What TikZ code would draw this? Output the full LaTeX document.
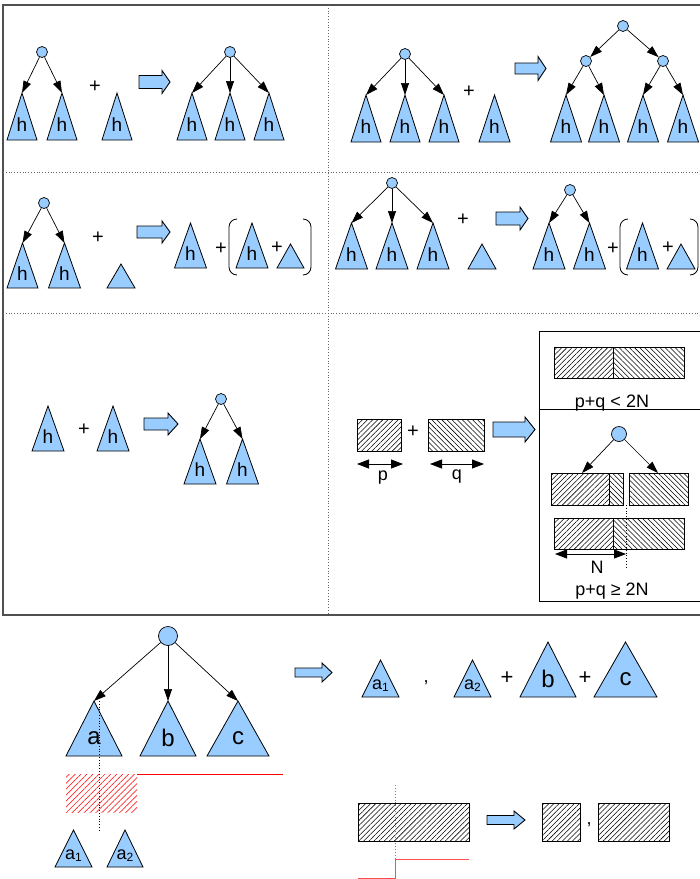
\documentclass[tikz,border=0pt]{standalone}
\usepackage{fontspec}
\setmainfont{Liberation Sans}
\usetikzlibrary{arrows.meta,patterns.meta}
\definecolor{tblue}{RGB}{153,204,255}
\definecolor{framegray}{RGB}{80,80,80}
\newcommand\fs[1]{\fontsize{#1}{#1}\selectfont}
% triangle: name, cx, apex y, half width, base y, label
\newcommand\tri[6]{%
  \draw[trishape] (#2-#4,#5) -- (#2,#3) -- (#2+#4,#5) -- cycle;
  \coordinate (#1) at (#2,#3);
  \node[lab] (#1l) at (#2,{#5-(#5-#3)*0.32}) {#6};}
% block arrow: x1, x2, y, body half, head half, head length
\newcommand\barrow[6]{%
  \draw[blockarr] (#1,#3-#4) -- (#2-#6,#3-#4) -- (#2-#6,#3-#5) -- (#2,#3)
    -- (#2-#6,#3+#5) -- (#2-#6,#3+#4) -- (#1,#3+#4) -- cycle;}
\newcommand\sub[2]{#1{\fs{12}\raisebox{-2pt}{#2}}}
\begin{document}
\begin{tikzpicture}[x=1pt,y=-1pt,
  trishape/.style={draw=black,fill=tblue,line width=0.8pt,line join=miter},
  lab/.style={inner sep=0pt,font=\fs{19}},
  knot/.style={circle,draw=black,fill=tblue,inner sep=0pt,minimum size=11pt,line width=0.7pt},
  arr/.style={-{Triangle[length=12pt,width=8pt]},line width=0.7pt},
  dblarr/.style={{Triangle[length=12pt,width=9pt]}-{Triangle[length=12pt,width=9pt]},line width=0.8pt},
  blockarr/.style={draw=black,fill=tblue,line width=0.9pt},
  plus/.style={inner sep=0pt,font=\fs{20}},
  txt/.style={inner sep=0pt,font=\fs{18}},
  frame/.style={draw=framegray,line width=1.3pt},
  sep/.style={draw=gray!80!black,dotted,line width=0.8pt},
  hne/.style={pattern={Lines[angle=45,distance=3.6pt,line width=0.55pt]}},
  hnw/.style={pattern={Lines[angle=-45,distance=3.6pt,line width=0.55pt]}},
  hred/.style={pattern={Lines[angle=45,distance=4.2pt,line width=0.7pt]},pattern color=red!85},
  box/.style={draw=black,line width=0.8pt},
  bracket/.style={draw=black,line width=0.8pt}]
\useasboundingbox (0,0) rectangle (700,879);
% frame
\draw[frame] (700,5) -- (3,5) -- (3,615) -- (700,615);
\draw[sep] (328,5) -- (328,615);
\draw[sep] (3,172) -- (700,172);
\draw[sep] (3,313) -- (700,313);

% ---- panel 1
\node[knot] (r1) at (42,52) {};
\tri{t1a}{22}{93}{15}{140}{h}
\tri{t1b}{62}{93}{15}{140}{h}
\draw[arr] (r1) -- (t1a);
\draw[arr] (r1) -- (t1b);
\node[plus] (p1) at (95,87) {+};
\tri{t1c}{117}{93}{15}{140}{h}
\barrow{139}{170}{82}{6.5}{11.5}{8}
\node[knot] (r2) at (230,52) {};
\tri{t2a}{192}{93}{15}{140}{h}
\tri{t2b}{230}{93}{15}{140}{h}
\tri{t2c}{269}{93}{15}{140}{h}
\draw[arr] (r2) -- (t2a);
\draw[arr] (r2) -- (t2b);
\draw[arr] (r2) -- (t2c);

% ---- panel 2
\node[knot] (r3) at (405,54) {};
\tri{t3a}{366}{95}{15}{142}{h}
\tri{t3b}{405}{95}{15}{142}{h}
\tri{t3c}{444}{95}{15}{142}{h}
\draw[arr] (r3) -- (t3a);
\draw[arr] (r3) -- (t3b);
\draw[arr] (r3) -- (t3c);
\node[plus] (p2) at (469,92) {+};
\tri{t3d}{494.5}{95}{15.5}{142}{h}
\barrow{515}{546}{68.5}{5.5}{12}{8}
\node[knot] (r4) at (623,26) {};
\node[knot] (r5) at (586,61) {};
\node[knot] (r6) at (663,61) {};
\draw[arr] (r4) -- (r5);
\draw[arr] (r4) -- (r6);
\tri{t4a}{566}{95}{15.5}{142}{h}
\tri{t4b}{604}{95}{15.5}{142}{h}
\tri{t4c}{643}{95}{15.5}{142}{h}
\tri{t4d}{683}{95}{15.5}{142}{h}
\draw[arr] (r5) -- (t4a);
\draw[arr] (r5) -- (t4b);
\draw[arr] (r6) -- (t4c);
\draw[arr] (r6) -- (t4d);

% ---- panel 3
\node[knot] (r7) at (44,203) {};
\tri{t5a}{22.5}{243}{15.5}{288}{h}
\tri{t5b}{64.5}{243}{16}{288}{h}
\draw[arr] (r7) -- (t5a);
\draw[arr] (r7) -- (t5b);
\node[plus] (p3) at (98,238) {+};
\tri{t5c}{121}{264}{14}{288}{}
\barrow{137}{170}{232}{6}{11}{8}
\tri{t6a}{190.5}{223}{16}{268}{h}
\node[plus] (p4) at (221,249) {+};
\draw[bracket] (237,219) to[out=180,in=90] (229,227) -- (229,267) to[out=-90,in=180] (237,275);
\draw[bracket] (303,219) to[out=0,in=90] (311,227) -- (311,267) to[out=-90,in=0] (303,275);
\tri{t6b}{252}{223}{16}{268}{h}
\node[plus] (p5) at (277,248) {+};
\tri{t6c}{290.5}{244}{13.5}{268}{}

% ---- panel 4
\node[knot] (r8) at (392,183) {};
\tri{t7a}{351.5}{223}{16}{269}{h}
\tri{t7b}{392}{223}{16}{269}{h}
\tri{t7c}{433}{223}{16}{269}{h}
\draw[arr] (r8) -- (t7a);
\draw[arr] (r8) -- (t7b);
\draw[arr] (r8) -- (t7c);
\node[plus] (p6) at (463,220) {+};
\tri{t7d}{482}{244}{14}{269}{}
\barrow{496}{528}{218.5}{6.5}{11.5}{8}
\node[knot] (r9) at (570,190) {};
\tri{t8a}{549}{223}{16}{269}{h}
\tri{t8b}{589.5}{223}{16}{269}{h}
\draw[arr] (r9) -- (t8a);
\draw[arr] (r9) -- (t8b);
\node[plus] (p7) at (613,249) {+};
\draw[bracket] (628,219) to[out=180,in=90] (620,227) -- (620,267) to[out=-90,in=180] (628,275);
\draw[bracket] (690,219) to[out=0,in=90] (698,227) -- (698,267) to[out=-90,in=0] (690,275);
\tri{t8c}{642.5}{223}{16}{269}{h}
\node[plus] (p8) at (668,248) {+};
\tri{t8d}{681}{244}{14}{269}{}

% ---- panel 5
\tri{t9a}{48}{406}{16}{451}{h}
\node[plus] (p9) at (84,430) {+};
\tri{t9b}{113}{406}{16}{451}{h}
\barrow{144}{178}{424}{6}{11}{10}
\node[knot] (r10) at (221,399) {};
\tri{t9c}{200}{439}{16}{484}{h}
\tri{t9d}{242.5}{439}{16}{484}{h}
\draw[arr] (r10) -- (t9c);
\draw[arr] (r10) -- (t9d);

% ---- panel 6
\path[hne] (357,419) rectangle (401,451);
\draw[box] (357,419) rectangle (401,451);
\node[plus] (p10) at (413,432) {+};
\path[hnw] (428,419) rectangle (484,451);
\draw[box] (428,419) rectangle (484,451);
\coordinate (pl) at (357,464); \coordinate (pr) at (403,464);
\coordinate (ql) at (430,464); \coordinate (qr) at (484,464);
\draw[dblarr] (pl) -- (pr);
\draw[dblarr] (ql) -- (qr);
\node[txt] (plab) at (383,478) {p};
\node[txt] (qlab) at (457,477) {q};
\barrow{493}{535}{429.5}{7.5}{12.5}{10}
\draw[box] (699.5,331) -- (539,331) -- (539,601) -- (699.5,601);
\draw[box] (539,409) -- (699.5,409);
\path[hne] (554,347) rectangle (613,378);
\path[hnw] (613,347) rectangle (684,378);
\draw[box] (554,347) rectangle (684,378);
\draw[box] (613,347) -- (613,378);
\node[txt,anchor=base] (lt) at (612,407) {p+q < 2N};
\node[knot,minimum size=15pt] (r11) at (619,434) {};
\coordinate (m1) at (582,473);
\coordinate (m2) at (658,473);
\draw[arr] (r11) -- (m1);
\draw[arr] (r11) -- (m2);
\path[hne] (551,473) rectangle (609,505);
\path[hnw] (609,473) rectangle (623,505);
\draw[box] (551,473) rectangle (623,505);
\draw[box] (609,473) -- (609,505);
\path[hnw] (629,473) rectangle (688,505);
\draw[box] (629,473) rectangle (688,505);
\path[hne] (554,518) rectangle (613,549);
\path[hnw] (613,518) rectangle (684,549);
\draw[box] (554,518) rectangle (684,549);
\draw[box] (613,518) -- (613,549);
\draw[dotted,line width=0.8pt] (626,505) -- (626,567);
\coordinate (nl) at (555,554); \coordinate (nr) at (626,554);
\draw[dblarr] (nl) -- (nr);
\node[txt] (nlab) at (597,567) {N};
\node[txt,anchor=base] (ge) at (612,595) {p+q ≥ 2N};

% ---- bottom section
\node[knot,minimum size=19pt] (r12) at (168,636) {};
\tri{ta}{94}{701}{28}{756}{\fs{24}a}
\tri{tb}{168}{701}{28}{756}{\fs{24}b}
\tri{tc}{238}{701}{31}{756}{\fs{24}c}
\draw[arr] (r12) -- (ta);
\draw[arr] (r12) -- (tb);
\draw[arr] (r12) -- (tc);
\draw[dotted,line width=0.8pt] (99,701) -- (99,830);
\path[hred] (66,774) rectangle (137,812);
\draw[red,line width=0.8pt] (137,774) -- (283,774);
\tri{tsa}{73.5}{830}{18.5}{867}{\fs{18}\sub{a}{1}}
\tri{tsb}{125}{830}{18}{867}{\fs{18}\sub{a}{2}}

\barrow{295}{332}{672.5}{4.5}{9.5}{10}
\tri{tra}{380.5}{660}{18.5}{697}{\fs{18}\sub{a}{1}}
\node[txt] (c1) at (426,683) {,};
\tri{trb}{472.5}{660}{18.5}{697}{\fs{18}\sub{a}{2}}
\node[plus,font=\fs{22}] (p11) at (507,678) {+};
\tri{trc}{548}{642}{28}{697}{\fs{24}b}
\node[plus,font=\fs{22}] (p12) at (585,678) {+};
\tri{trd}{625.5}{642}{31.5}{697}{\fs{24}c}

\path[hne] (358,803) rectangle (469,841);
\draw[box] (358,803) rectangle (469,841);
\draw[dotted,gray,line width=0.9pt] (395,785) -- (395,859);
\draw[red!70,line width=1pt] (358,878) -- (395,878) -- (395,859) -- (469,859);
\barrow{487}{525}{820}{4.5}{9}{11}
\path[hne] (542,803) rectangle (580,841);
\draw[box] (542,803) rectangle (580,841);
\node[txt] (c2) at (589,825) {,};
\path[hne] (598,803) rectangle (669,841);
\draw[box] (598,803) rectangle (669,841);
\end{tikzpicture}
\end{document}
